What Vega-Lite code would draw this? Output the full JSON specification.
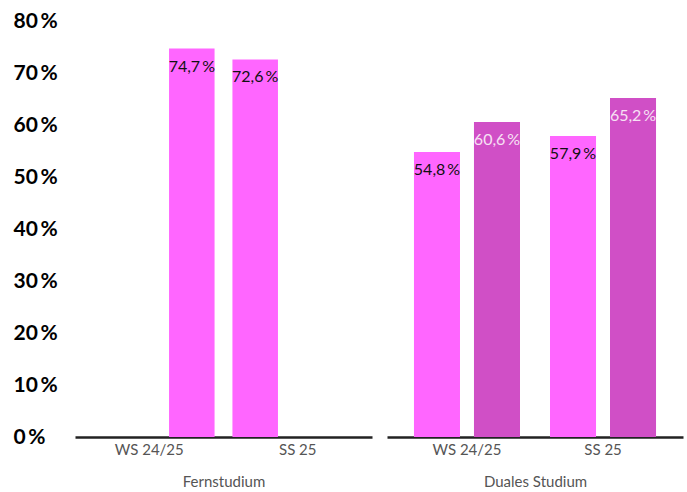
{
  "$schema": "https://vega.github.io/schema/vega-lite/v6.json",
  "autosize": {"type": "pad"},
  "padding": {"left": 13, "top": 10, "right": 4, "bottom": 2},
  "data": {
    "values": [
      {"Studium": "Fernstudium", "Semester": "WS 24/25", "Position": "2", "Serie": "A", "Anteil": 0.747},
      {"Studium": "Fernstudium", "Semester": "SS 25", "Position": "1", "Serie": "A", "Anteil": 0.726},
      {"Studium": "Duales Studium", "Semester": "WS 24/25", "Position": "1", "Serie": "A", "Anteil": 0.548},
      {"Studium": "Duales Studium", "Semester": "WS 24/25", "Position": "2", "Serie": "B", "Anteil": 0.606},
      {"Studium": "Duales Studium", "Semester": "SS 25", "Position": "1", "Serie": "A", "Anteil": 0.579},
      {"Studium": "Duales Studium", "Semester": "SS 25", "Position": "2", "Serie": "B", "Anteil": 0.652}
    ]
  },
  "config": {
    "locale": {"number": {"decimal": ",", "thousands": ".", "grouping": [3], "currency": ["", " €"], "percent": "\u2009%"}},
    "font": "Lato",
    "view": {"stroke": null},
    "concat": {"spacing": 15},
    "axis": {"grid": false, "ticks": false},
    "axisX": {
      "labelAngle": 0, "labelFontSize": 15, "labelColor": "#555555", "labelPadding": 5,
      "domainColor": "#222222", "domainWidth": 2.5,
      "titleFontSize": 15, "titleFontWeight": "normal", "titleColor": "#555555", "titlePadding": 17
    }
  },
  "resolve": {"scale": {"y": "shared", "x": "independent", "xOffset": "independent"}},
  "hconcat": [
    {
      "width": 297,
      "height": 416,
      "transform": [{"filter": "datum.Studium === 'Fernstudium'"}],
      "encoding": {
        "x": {"field": "Semester", "type": "nominal", "sort": ["WS 24/25", "SS 25"], "scale": {"paddingInner": 0, "paddingOuter": 0}, "axis": {"title": "Fernstudium"}},
        "xOffset": {"field": "Position", "type": "nominal", "sort": ["1", "2"], "scale": {"paddingInner": 0.465, "paddingOuter": 0.105}},
        "y": {"field": "Anteil", "type": "quantitative", "scale": {"domain": [0, 0.8]},
          "axis": {"values": [0, 0.1, 0.2, 0.3, 0.4, 0.5, 0.6, 0.7, 0.8], "format": ".0%", "labelAlign": "left", "labelPadding": 62, "labelFontSize": 21, "labelFontWeight": "bold", "labelColor": "#000000", "domain": false, "title": null}}
      },
      "layer": [
        {"mark": {"type": "bar"}, "encoding": {"color": {"field": "Serie", "type": "nominal", "scale": {"domain": ["A", "B"], "range": ["#ff66ff", "#d04fc6"]}, "legend": null}}},
        {"mark": {"type": "text", "baseline": "middle", "dy": 18, "fontSize": 16},
          "encoding": {"text": {"field": "Anteil", "type": "quantitative", "format": ".1%"},
            "color": {"condition": {"test": "datum.Serie === 'B'", "value": "#f7e1f4"}, "value": "#111111"}}}
      ]
    },
    {
      "width": 296,
      "height": 416,
      "transform": [{"filter": "datum.Studium === 'Duales Studium'"}],
      "encoding": {
        "x": {"field": "Semester", "type": "nominal", "sort": ["WS 24/25", "SS 25"], "scale": {"paddingInner": 0, "paddingOuter": 0.088}, "axis": {"title": "Duales Studium"}},
        "xOffset": {"field": "Position", "type": "nominal", "sort": ["1", "2"], "scale": {"paddingInner": 0.233, "paddingOuter": 0.25}},
        "y": {"field": "Anteil", "type": "quantitative", "scale": {"domain": [0, 0.8]}, "axis": null}
      },
      "layer": [
        {"mark": {"type": "bar"}, "encoding": {"color": {"field": "Serie", "type": "nominal", "scale": {"domain": ["A", "B"], "range": ["#ff66ff", "#d04fc6"]}, "legend": null}}},
        {"mark": {"type": "text", "baseline": "middle", "dy": 18, "fontSize": 16},
          "encoding": {"text": {"field": "Anteil", "type": "quantitative", "format": ".1%"},
            "color": {"condition": {"test": "datum.Serie === 'B'", "value": "#f7e1f4"}, "value": "#111111"}}}
      ]
    }
  ]
}
